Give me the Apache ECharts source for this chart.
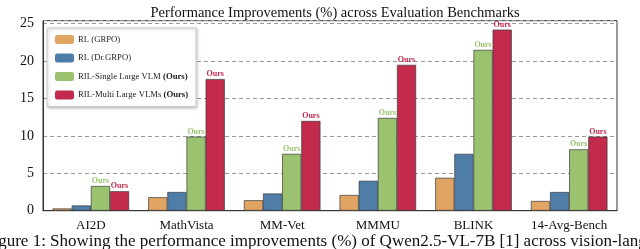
<!DOCTYPE html>
<html><head><meta charset="utf-8">
<script src="https://cdn.jsdelivr.net/npm/echarts@6/dist/echarts.min.js"></script>
<style>html,body{margin:0;padding:0;background:#fff;}#c{width:640px;height:249px;}</style>
</head><body><div id="c"></div>
<script>
const categories = ['AI2D', 'MathVista', 'MM-Vet', 'MMMU', 'BLINK', '14-Avg-Bench'];
const rlGrpo = [0.3, 1.8, 1.4, 2.1, 4.4, 1.3];
const rlDrGrpo = [0.7, 2.5, 2.3, 4.0, 7.6, 2.5];
const rilSingle = [3.3, 9.9, 7.6, 12.4, 21.5, 8.2];
const rilMulti = [2.6, 17.6, 12.0, 19.5, 24.2, 9.9];
const seriesNames = ['RL (GRPO)', 'RL (Dr.GRPO)', 'RIL-Single Large VLM (Ours)', 'RIL-Multi Large VLMs (Ours)'];
const yTicks = [0, 5, 10, 15, 20, 25];
const titleText = 'Performance Improvements (%) across Evaluation Benchmarks';
const captionText = 'Figure 1: Showing the performance improvements (%) of Qwen2.5-VL-7B [1] across vision-language benchmarks';

const colors = ['#e0a463', '#4e7ea8', '#9bc36f', '#c42a4b'];
const serif = '"Liberation Serif", "DejaVu Serif", serif';
const chart = echarts.init(document.getElementById('c'), null, {renderer: 'canvas'});

function bar(name, data, color, label) {
  return {
    name, type: 'bar', data, barGap: '0%', barCategoryGap: '20%',
    itemStyle: {color, borderColor: '#3a3a3a', borderWidth: 0.7},
    label: label ? {show: true, position: 'top', distance: 1, formatter: 'Ours',
      fontFamily: serif, fontSize: 8, fontWeight: 'bold', color: color} : {show: false},
    emphasis: {disabled: true}, animation: false
  };
}

chart.setOption({
  animation: false,
  title: {text: titleText, left: 330, textAlign: 'center', top: 1,
    textStyle: {fontFamily: serif, fontSize: 14.5, fontWeight: 'normal', color: '#111'}},
  grid: {left: 43, right: 23, top: 20.7, bottom: 38.3, show: true, borderColor: '#333', borderWidth: 1},
  legend: {
    left: 47, top: 28, orient: 'vertical', itemWidth: 19, itemHeight: 9, itemGap: 9.5,
    padding: [7, 8, 7, 8], backgroundColor: '#fff', borderColor: '#ccc', borderWidth: 1,
    shadowColor: 'rgba(0,0,0,0.25)', shadowBlur: 3, shadowOffsetX: 1, shadowOffsetY: 1,
    data: seriesNames.map(n => ({name: n, itemStyle: {borderWidth: 0}})),
    formatter: n => n.replace('(Ours)', '{b|(Ours)}'),
    textStyle: {fontFamily: serif, fontSize: 8.7, color: '#222', padding: [0, 0, 0, -1],
      rich: {b: {fontFamily: serif, fontSize: 8.7, fontWeight: 'bold', color: '#222'}}}
  },
  xAxis: {type: 'category', data: categories,
    axisLine: {show: true, lineStyle: {color: '#333'}}, axisTick: {show: false},
    axisLabel: {interval: 0, fontFamily: serif, fontSize: 13, color: '#111', margin: 8}},
  yAxis: {type: 'value', min: 0, max: 25.4, interval: 5,
    axisLine: {show: true, lineStyle: {color: '#333'}}, axisTick: {show: false},
    axisLabel: {fontFamily: serif, fontSize: 14, color: '#111', margin: 9,
      formatter: v => yTicks.includes(v) ? String(v) : ''},
    splitLine: {show: true, lineStyle: {color: '#999', type: [4, 3], width: 1}}},
  series: [
    bar(seriesNames[0], rlGrpo, colors[0], false),
    bar(seriesNames[1], rlDrGrpo, colors[1], false),
    bar(seriesNames[2], rilSingle, colors[2], true),
    bar(seriesNames[3], rilMulti, colors[3], true)
  ],
  graphic: [{type: 'text', left: -16, top: 233, silent: true,
    style: {text: captionText, fontFamily: serif, fontSize: 17, fill: '#111'}}]
});
</script></body></html>
